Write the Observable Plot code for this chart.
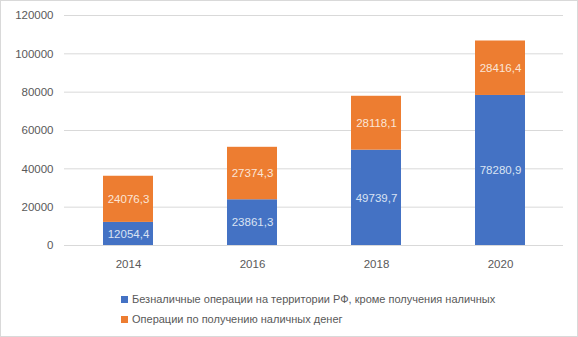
<!DOCTYPE html>
<html>
<head>
<meta charset="utf-8">
<script src="https://cdn.jsdelivr.net/npm/d3@7"></script>
<script src="https://cdn.jsdelivr.net/npm/@observablehq/plot@0.6"></script>
<style>
  html, body { margin: 0; padding: 0; background: #fff; }
  #wrap { position: relative; width: 578px; height: 337px; overflow: hidden; font-family: "Liberation Sans", Arial, sans-serif; }
  #frame { position: absolute; left: 0; top: 0; width: 578px; height: 337px; box-sizing: border-box; border: 1px solid #d9d9d9; pointer-events: none; }
  #chart { position: absolute; left: 0; top: 0; }
  #legend { position: absolute; left: 121px; top: 289px; font-size: 11px; color: #595959; }
  .row { display: flex; align-items: center; height: 20px; white-space: nowrap; }
  .sw { width: 7px; height: 7px; margin-right: 4px; }
</style>
</head>
<body>
<div id="wrap">
  <div id="chart"></div>
  <div id="legend"></div>
  <div id="frame"></div>
</div>
<script>
const years = ["2014", "2016", "2018", "2020"];
const seriesNames = [
  "Безналичные операции на территории РФ, кроме получения наличных",
  "Операции по получению наличных денег"
];
const cashless = [12054.4, 23861.3, 49739.7, 78280.9];
const cash = [24076.3, 27374.3, 28118.1, 28416.4];
const colors = ["#4472C4", "#ED7D31"];
const labelColors = ["#dae3f3", "#fbe5d6"];
const yTicks = [0, 20000, 40000, 60000, 80000, 100000, 120000];

const data = [];
years.forEach((y, i) => data.push({year: y, series: seriesNames[0], value: cashless[i], k: 0}));
years.forEach((y, i) => data.push({year: y, series: seriesNames[1], value: cash[i], k: 1}));

const fmt = v => v.toFixed(1).replace(".", ",");

const plot = Plot.plot({
  width: 578,
  height: 285,
  marginTop: 15,
  marginBottom: 40,
  marginLeft: 64,
  marginRight: 15,
  style: {fontFamily: "Liberation Sans, Arial, sans-serif", fontSize: "11.5px", color: "#595959", background: "transparent"},
  x: {domain: years, paddingInner: 0.6, paddingOuter: 0.3, label: null, tickSize: 0, tickPadding: 14},
  y: {domain: [0, 120000], ticks: yTicks, label: null, tickSize: 0, tickPadding: 11, tickFormat: d => String(d)},
  color: {domain: seriesNames, range: colors},
  marks: [
    Plot.gridY(yTicks, {stroke: "#d9d9d9", strokeOpacity: 1, strokeWidth: 1}),
    Plot.barY(data, {x: "year", y: "value", fill: "series", z: "series", order: null}),
    Plot.text(data, Plot.stackY({x: "year", y: "value", z: "series", order: null, text: d => fmt(d.value), fill: d => labelColors[d.k], fontSize: 11.5}))
  ]
});
document.getElementById("chart").appendChild(plot);

const legend = document.getElementById("legend");
seriesNames.forEach((name, i) => {
  const row = document.createElement("div");
  row.className = "row";
  const sw = document.createElement("div");
  sw.className = "sw";
  sw.style.background = colors[i];
  const t = document.createElement("span");
  t.textContent = name;
  row.appendChild(sw);
  row.appendChild(t);
  legend.appendChild(row);
});
</script>
</body>
</html>
